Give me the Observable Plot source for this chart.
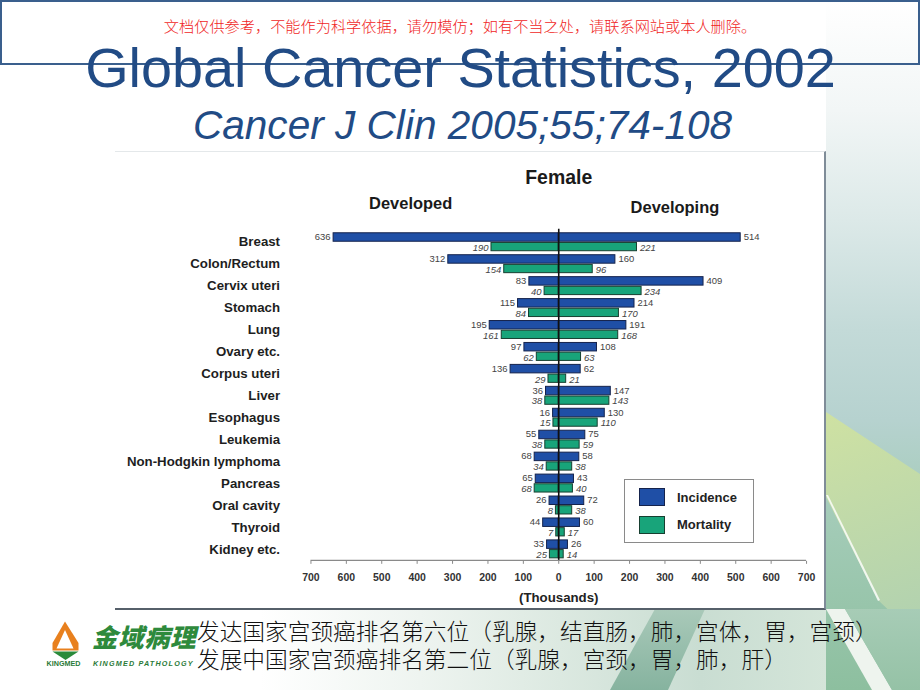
<!DOCTYPE html>
<html>
<head>
<meta charset="utf-8">
<script src="https://cdn.jsdelivr.net/npm/d3@7"></script>
<script src="https://cdn.jsdelivr.net/npm/@observablehq/plot@0.6"></script>
<style>
  html, body { margin: 0; padding: 0; }
  body { width: 920px; height: 690px; position: relative; overflow: hidden; background: #fff;
         font-family: "Liberation Sans", Arial, sans-serif; }
  .abs { position: absolute; }
  #panel svg { display: block; }
  #panel [aria-label="x-axis tick"] { stroke: #8a8a8a; }
  #panel [aria-label="x-axis tick label"] { fill: #333; font-weight: bold; }
  #panel [aria-label="y-axis tick label"] { fill: #1e1e1e; font-weight: bold; }
</style>
</head>
<body>
<!-- background decoration -->
<div class="abs" style="left:826px;top:0;width:94px;height:690px;background:linear-gradient(to bottom,#ffffff 0px,#f2f6f6 110px,#dce9e8 220px,#c3dad8 330px,#b6d2cf 420px,#a3cbb7 520px,#8dbf9f 690px);"></div>
<div class="abs" style="left:826px;top:0;width:94px;height:690px;clip-path:polygon(0 412px,94px 474px,94px 640px,52px 600px,0 497px);background:linear-gradient(160deg,#f0f58e 0%,#e2ec98 35%,#c3dba8 70%,#a9cdb3 100%);"></div>
<div class="abs" style="left:826px;top:0;width:94px;height:690px;clip-path:polygon(0 495px,2px 495px,54px 600px,52px 601px);background:#ffffff;opacity:0.8;"></div>
<div class="abs" style="left:0;top:609px;width:826px;height:81px;background:linear-gradient(to right,#ffffff 0px,#ffffff 260px,#eef4f0 420px,#dce9e1 560px,#c9ddd2 700px,#d4e5d9 826px);"></div>
<div class="abs" style="left:0;top:609px;width:920px;height:81px;clip-path:polygon(655px 0,705px 0,668px 81px,610px 81px);background:linear-gradient(to bottom,#a9c9b9,#86b39f);"></div>
<div class="abs" style="left:0;top:609px;width:920px;height:81px;clip-path:polygon(826px 0,845px 0,892px 81px,872px 81px);background:#eef4ee;"></div>
<div class="abs" style="left:0;top:609px;width:920px;height:81px;clip-path:polygon(845px 0,920px 0,920px 81px,892px 81px);background:linear-gradient(to bottom,#a7ccb6,#95c2a6);"></div>

<!-- header box -->
<div class="abs" style="left:0;top:0;width:916px;height:61px;border:2px solid #3a5f8d;"></div>
<div class="abs" style="left:0;top:18px;width:920px;text-align:center;font-family:'Noto Sans CJK SC',sans-serif;font-size:15.2px;line-height:15.2px;color:#f01e1e;font-weight:300;">文档仅供参考，不能作为科学依据，请勿模仿；如有不当之处，请联系网站或本人删除。</div>
<div id="title" class="abs" style="left:0;top:40px;width:921px;text-align:center;font-size:55.8px;line-height:55.8px;color:#214b85;white-space:nowrap;">Global Cancer Statistics, 2002</div>
<div id="subtitle" class="abs" style="left:0;top:105px;width:925px;text-align:center;font-size:40.6px;line-height:40.6px;font-style:italic;color:#214b85;white-space:nowrap;">Cancer J Clin 2005;55;74-108</div>

<!-- chart panel -->
<div id="panel" class="abs" style="left:115px;top:151px;width:709px;height:456px;background:#fff;border-top:1px solid #e4e8ea;border-right:2px solid #7f8c98;border-bottom:2px solid #56606a;"></div>
<div id="legend" class="abs" style="left:624px;top:479px;width:128px;height:62px;border:1px solid #8a8a8a;background:#fff;font-weight:bold;font-size:13px;color:#222;"></div>

<!-- bottom -->
<svg class="abs" style="left:40px;top:612px;" width="160" height="60" viewBox="0 0 160 60">
  <polygon points="25,9.5 38.5,31 38.5,38.5 12.5,38.5 12.5,31" fill="#e8801e"/>
  <polygon points="25,18 33.5,36.5 16.5,36.5" fill="#ffffff"/>
  <polygon points="12.5,39.5 38.5,39.5 25.5,48" fill="#2a8a3a"/>
  <text x="6.5" y="53.5" font-size="7.2" font-weight="bold" fill="#2a7a38" font-family="Liberation Sans, Arial">KINGMED</text>
  <text x="53" y="53.5" font-size="7.2" font-weight="bold" font-style="italic" fill="#2a7a38" letter-spacing="1.2" font-family="Liberation Sans, Arial">KINGMED PATHOLOGY</text>
</svg>
<div class="abs" style="left:92px;top:623px;font-family:'Noto Sans CJK SC',sans-serif;font-weight:900;font-size:25.5px;line-height:25.5px;color:#2e8a3c;letter-spacing:0.5px;font-style:italic;">金域病理</div>
<div class="abs" style="left:197px;top:616.7px;font-family:'Noto Sans CJK SC',sans-serif;font-size:22.7px;line-height:28px;color:#111;white-space:nowrap;font-weight:300;">发达国家宫颈癌排名第六位（乳腺，结直肠，肺，宫体，胃，宫颈）<br>发展中国家宫颈癌排名第二位（乳腺，宫颈，胃，肺，肝）</div>

<script>
// ---- data ----
const categories = ["Breast", "Colon/Rectum", "Cervix uteri", "Stomach", "Lung", "Ovary etc.",
  "Corpus uteri", "Liver", "Esophagus", "Leukemia", "Non-Hodgkin lymphoma", "Pancreas",
  "Oral cavity", "Thyroid", "Kidney etc."];
const developedIncidence  = [636, 312,  83, 115, 195,  97, 136,  36,  16, 55, 68, 65, 26, 44, 33];
const developedMortality  = [190, 154,  40,  84, 161,  62,  29,  38,  15, 38, 34, 68,  8,  7, 25];
const developingIncidence = [514, 160, 409, 214, 191, 108,  62, 147, 130, 75, 58, 43, 72, 60, 26];
const developingMortality = [221,  96, 234, 170, 168,  63,  21, 143, 110, 59, 38, 40, 38, 17, 14];
const xTicks = [-700, -600, -500, -400, -300, -200, -100, 0, 100, 200, 300, 400, 500, 600, 700];
const seriesNames = ["Incidence", "Mortality"];
const groupNames = ["Developed", "Developing"];
const chartTitle = "Female";
const axisTitle = "(Thousands)";

// ---- styles ----
const fillColors = ["#1f4fa6", "#18a47a"];
const strokeColors = ["#15234c", "#173f30"];

const rows = categories.map((category, i) => ({
  category,
  devInc: developedIncidence[i],
  devMort: developedMortality[i],
  dvgInc: developingIncidence[i],
  dvgMort: developingMortality[i]
}));

const band = (410 - 77) / categories.length;
const incBar = {insetTop: 2, insetBottom: band / 2 + 0.4};
const mortBar = {insetTop: band / 2 + 0.6, insetBottom: 2};
const valText = {fontSize: 9.5, fill: "#444"};
const head = {lineAnchor: "middle", fontWeight: "bold", fill: "#1a1a1a"};

const chart = Plot.plot({
  width: 711, height: 455,
  marginLeft: 196, marginRight: 18, marginTop: 77, marginBottom: 45,
  x: {domain: [-700, 700]},
  y: {domain: categories, padding: 0},
  style: {fontFamily: "'Liberation Sans', Arial, sans-serif", background: "transparent", overflow: "visible"},
  marks: [
    Plot.barX(rows, {x1: d => -d.devInc, x2: d => 0, y: "category", fill: fillColors[0], stroke: strokeColors[0], strokeWidth: 1, ...incBar}),
    Plot.barX(rows, {x1: d => 0, x2: d => d.dvgInc, y: "category", fill: fillColors[0], stroke: strokeColors[0], strokeWidth: 1, ...incBar}),
    Plot.barX(rows, {x1: d => -d.devMort, x2: d => 0, y: "category", fill: fillColors[1], stroke: strokeColors[1], strokeWidth: 1, ...mortBar}),
    Plot.barX(rows, {x1: d => 0, x2: d => d.dvgMort, y: "category", fill: fillColors[1], stroke: strokeColors[1], strokeWidth: 1, ...mortBar}),
    Plot.ruleX([0], {stroke: "#111", strokeWidth: 1.6}),
    Plot.ruleY([categories[categories.length - 1]], {y: d => d, dy: band / 2, stroke: "#8a8a8a", strokeWidth: 1.2}),
    Plot.axisX({ticks: xTicks, tickFormat: d => Math.abs(d), tickSize: 3, tickPadding: 9, fontSize: 10.5, fontWeight: "bold", label: null}),
    Plot.axisY({tickSize: 0, tickPadding: 31, fontSize: 13.3, fontWeight: "bold", label: null}),
    Plot.text(rows, {x: d => -d.devInc, y: "category", text: d => String(d.devInc), textAnchor: "end", dx: -3, dy: -5.3, ...valText}),
    Plot.text(rows, {x: d => d.dvgInc, y: "category", text: d => String(d.dvgInc), textAnchor: "start", dx: 3, dy: -5.3, ...valText}),
    Plot.text(rows, {x: d => -d.devMort, y: "category", text: d => String(d.devMort), textAnchor: "end", dx: -3, dy: 5.6, fontStyle: "italic", ...valText}),
    Plot.text(rows, {x: d => d.dvgMort, y: "category", text: d => String(d.dvgMort), textAnchor: "start", dx: 3, dy: 5.6, fontStyle: "italic", ...valText}),
    Plot.text([chartTitle], {frameAnchor: "top", dy: -52, fontSize: 19.5, ...head}),
    Plot.text([groupNames[0]], {frameAnchor: "top", dx: -148.5, dy: -26, fontSize: 16.5, ...head}),
    Plot.text([groupNames[1]], {frameAnchor: "top", dx: 116.5, dy: -22, fontSize: 16.5, ...head}),
    Plot.text([axisTitle], {frameAnchor: "bottom", dy: 37, fontSize: 13.3, lineAnchor: "middle", fontWeight: "bold", fill: "#222"})
  ]
});
document.getElementById("panel").appendChild(chart);

// legend (HTML, from the same series arrays)
const legend = document.getElementById("legend");
seriesNames.forEach((name, i) => {
  const sw = document.createElement("div");
  sw.className = "abs";
  sw.style.cssText = `left:14px;top:${8 + i * 28}px;width:24px;height:16px;background:${fillColors[i]};border:1px solid ${strokeColors[i]};`;
  legend.appendChild(sw);
  const t = document.createElement("div");
  t.className = "abs";
  t.style.cssText = `left:52px;top:${10 + i * 27}px;line-height:15px;`;
  t.textContent = name;
  legend.appendChild(t);
});
</script>
</body>
</html>
